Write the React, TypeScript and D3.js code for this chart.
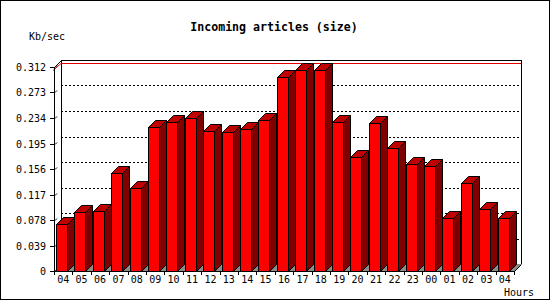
import React from "react";
import * as d3 from "d3";

const hours = ["04","05","06","07","08","09","10","11","12","13","14","15","16","17","18","19","20","21","22","23","00","01","02","03","04"];
const values = [0.0719,0.0902,0.0918,0.1494,0.1265,0.2207,0.2279,0.234,0.2141,0.2126,0.2172,0.2309,0.2962,0.3074,0.3074,0.2274,0.1739,0.2259,0.1877,0.1632,0.1606,0.0806,0.1341,0.0943,0.0806];
const yTickValues = [0,0.039,0.078,0.117,0.156,0.195,0.234,0.273,0.312];
const yTickLabels = ["0","0.039","0.078","0.117","0.156","0.195","0.234","0.273","0.312"];
const title = "Incoming articles (size)";
const yUnit = "Kb/sec";
const xUnit = "Hours";

const W = 550, H = 300;
const D = 7; // 3D depth
const left = 54, right = 514, bottom = 271, top = 67;

export default function App() {
  const x = d3.scaleBand<number>().domain(hours.map((_, i) => i)).range([left, right]).padding(0);
  const y = d3.scaleLinear().domain([0, 0.312]).range([bottom, top]);
  const step = x.step();
  const barW = 11;
  const maxV = d3.max(values) as number;
  const mono = "'DejaVu Sans Mono', monospace";

  return (
    <svg width={W} height={H} style={{ position: "absolute", left: 0, top: 0 }} shapeRendering="crispEdges">
      <rect x={0.5} y={0.5} width={W - 1} height={H - 1} fill="#fff" stroke="#000" />
      <text x={274} y={31} textAnchor="middle" fontFamily={mono} fontWeight="bold" fontSize={11.6}>{title}</text>
      <text x={29} y={40} fontFamily={mono} fontSize={10}>{yUnit}</text>
      <text x={504} y={295.5} fontFamily={mono} fontSize={10}>{xUnit}</text>

      {/* back plane */}
      <path d={`M${left + D + 0.5},${bottom - D} V${top - D + 0.5} H${right + D + 0.5} V${bottom - D}`} fill="none" stroke="#000" />
      {/* gridlines */}
      {yTickValues.slice(1, -1).map((v, i) => (
        <line key={i} x1={left + D} x2={right + D} y1={Math.round(y(v)) - D + 0.5} y2={Math.round(y(v)) - D + 0.5} stroke="#000" strokeDasharray="2,2" />
      ))}
      {/* max line */}
      <path d={`M${left - 1},${Math.round(y(maxV)) + 0.5} L${left + D},${Math.round(y(maxV)) - D + 0.5} H${right + D}`} fill="none" stroke="#e00000" shapeRendering="auto" />
      {/* floor */}
      <path d={`M${left},${bottom} L${left + D},${bottom - D} H${right + D} L${right},${bottom} Z`} fill="#8c8c8c" stroke="none" />
      <path d={`M${right + 0.5},${bottom + 0.5} L${right + D + 0.5},${bottom - D + 0.5}`} stroke="#000" shapeRendering="auto" />
      {/* front y axis */}
      <line x1={left + 0.5} x2={left + 0.5} y1={top} y2={bottom + 1} stroke="#000" />
      <path d={`M${left + 0.5},${top + 0.5} L${left + D + 0.5},${top - D + 0.5}`} stroke="#000" fill="none" shapeRendering="auto" />
      {yTickValues.map((v, i) => {
        const yy = Math.round(y(v)) + 0.5;
        return (
          <g key={i}>
            <line x1={left - 4} x2={left} y1={yy} y2={yy} stroke="#000" />
            <line x1={left + 1} x2={left + 3} y1={yy} y2={yy - 2} stroke="#000" shapeRendering="auto" />
            <text x={46} y={yy + 3.5} textAnchor="end" fontFamily={mono} fontSize={10}>{yTickLabels[i]}</text>
          </g>
        );
      })}

      {/* bars */}
      {values.map((v, i) => {
        const x0 = Math.round((x(i) as number) + 2) + 0.5;
        const yt = Math.round(y(v)) + 0.5;
        const yb = bottom + 0.5;
        return (
          <g key={i} stroke="#000" strokeWidth={1} shapeRendering="auto">
            <path d={`M${x0 + barW},${yt} L${x0 + barW + D},${yt - D} V${yb - D} L${x0 + barW},${yb} Z`} fill="#800000" />
            <path d={`M${x0},${yt} L${x0 + D},${yt - D} H${x0 + barW + D} L${x0 + barW},${yt} Z`} fill="#c00000" />
            <rect x={x0} y={yt} width={barW} height={yb - yt} fill="#ff0000" />
          </g>
        );
      })}

      {/* x axis */}
      <line x1={left} x2={right + 1} y1={bottom + 0.5} y2={bottom + 0.5} stroke="#000" />
      {d3.range(hours.length + 1).map((i) => {
        const xx = Math.round(left + i * step) + 0.5;
        return <line key={i} x1={xx} x2={xx} y1={bottom} y2={bottom + 4} stroke="#000" />;
      })}
      {hours.map((h, i) => (
        <text key={i} x={(x(i) as number) + step / 2} y={283} textAnchor="middle" fontFamily={mono} fontSize={10}>{h}</text>
      ))}
    </svg>
  );
}
